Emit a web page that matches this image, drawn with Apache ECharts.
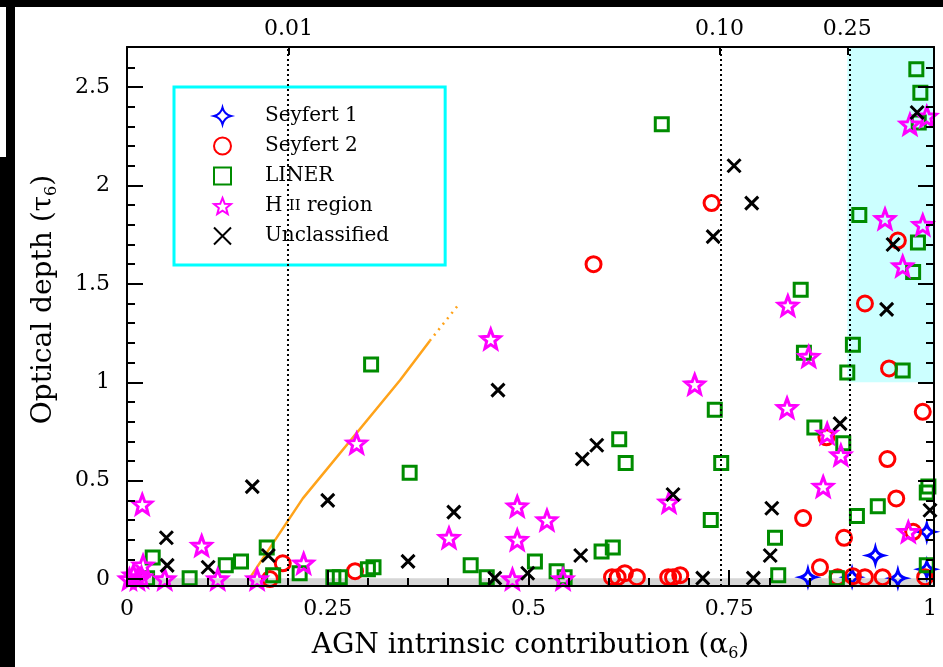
<!DOCTYPE html>
<html><head><meta charset="utf-8">
<script src="https://cdn.jsdelivr.net/npm/echarts@6/dist/echarts.min.js"></script>
<style>html,body{margin:0;padding:0;background:#fff}#c{width:943px;height:667px}</style>
</head><body><div id="c"></div>
<script>
// ---- data ([alpha6, tau6]) ----
const seyfert1 = [[0.848,0.01],[0.903,0.01],[0.932,0.12],[0.960,0.005],[0.996,0.24],[0.996,0.05]];
const seyfert2 = [[0.178,0.0],[0.194,0.08],[0.284,0.04],[0.581,1.60],[0.604,0.01],[0.611,0.01],[0.620,0.03],[0.635,0.01],[0.674,0.01],[0.680,0.01],[0.689,0.02],[0.728,1.91],[0.842,0.31],[0.863,0.06],[0.871,0.72],[0.885,0.01],[0.893,0.21],[0.904,0.015],[0.919,0.01],[0.919,1.40],[0.941,0.01],[0.947,0.61],[0.949,1.07],[0.958,0.41],[0.960,1.72],[0.979,0.24],[0.991,0.85],[0.994,0.01]];
const liner = [[0.025,0.005],[0.032,0.11],[0.078,0.005],[0.123,0.07],[0.142,0.09],[0.174,0.16],[0.182,0.02],[0.215,0.03],[0.257,0.01],[0.265,0.01],[0.300,0.05],[0.307,0.06],[0.304,1.09],[0.352,0.54],[0.428,0.07],[0.448,0.01],[0.508,0.09],[0.535,0.04],[0.545,0.01],[0.591,0.14],[0.605,0.16],[0.613,0.71],[0.621,0.59],[0.666,2.31],[0.727,0.30],[0.732,0.86],[0.740,0.59],[0.807,0.21],[0.811,0.02],[0.839,1.47],[0.843,1.15],[0.856,0.77],[0.884,0.005],[0.892,0.69],[0.897,1.05],[0.904,1.19],[0.909,0.32],[0.912,1.85],[0.935,0.37],[0.966,1.06],[0.979,1.56],[0.983,2.59],[0.985,1.71],[0.986,2.32],[0.988,2.47],[0.996,0.44],[0.998,0.47],[0.996,0.07]];
const hii = [[0.003,0.0],[0.008,0.02],[0.013,0.0],[0.018,0.01],[0.019,0.38],[0.020,0.07],[0.047,0.0],[0.093,0.17],[0.113,0.0],[0.162,0.0],[0.220,0.08],[0.286,0.69],[0.401,0.21],[0.453,1.22],[0.480,0.0],[0.486,0.37],[0.486,0.20],[0.523,0.30],[0.543,0.0],[0.675,0.39],[0.707,0.99],[0.822,0.87],[0.823,1.39],[0.849,1.13],[0.867,0.47],[0.872,0.74],[0.889,0.63],[0.944,1.83],[0.966,1.59],[0.973,0.24],[0.975,2.31],[0.991,1.80],[0.996,2.35]];
const unclassified = [[0.049,0.21],[0.050,0.07],[0.101,0.06],[0.156,0.47],[0.176,0.12],[0.250,0.40],[0.350,0.09],[0.407,0.34],[0.458,0.005],[0.462,0.96],[0.499,0.03],[0.565,0.12],[0.567,0.61],[0.585,0.68],[0.680,0.43],[0.717,0.005],[0.730,1.74],[0.756,2.10],[0.778,1.91],[0.780,0.005],[0.801,0.12],[0.803,0.36],[0.888,0.79],[0.946,1.37],[0.954,1.70],[0.984,2.37],[1.000,0.35]];
const trackSolid = [[0.152,0.0],[0.219,0.41],[0.340,1.01],[0.377,1.21]];
const trackDotted = [[0.377,1.21],[0.412,1.39]];
const refLineX = [0.201, 0.738, 0.897];
const refLineLabels = ['0.01','0.10','0.25'];
const shadeFrom = [0.897, 1.0];
const xTickValues = [0, 0.25, 0.5, 0.75, 1];
const xTickLabels = ['0','0.25','0.5','0.75','1'];
const xMinorTicks = [0.05,0.1,0.15,0.2,0.3,0.35,0.4,0.45,0.55,0.6,0.65,0.7,0.8,0.85,0.9,0.95];
const yTickValues = [0, 0.5, 1, 1.5, 2, 2.5];
const yTickLabels = ['0','0.5','1','1.5','2','2.5'];
const yMinorTicks = [0.1,0.2,0.3,0.4,0.6,0.7,0.8,0.9,1.1,1.2,1.3,1.4,1.6,1.7,1.8,1.9,2.1,2.2,2.3,2.4,2.6];

const X_MIN = 0, X_MAX = 1.005, Y_MIN = -0.035, Y_MAX = 2.703;
const FONT = 'DejaVu Serif';

function lbl(values, labels) {
  return v => { const i = values.findIndex(t => Math.abs(t - v) < 1e-6); return i >= 0 ? labels[i] : ''; };
}
function starPath(R, r) {
  let s = '';
  for (let i = 0; i < 10; i++) {
    const a = -Math.PI / 2 + i * Math.PI / 5, rad = i % 2 ? r : R;
    s += (i ? 'L' : 'M') + (rad * Math.cos(a)).toFixed(2) + ',' + (rad * Math.sin(a)).toFixed(2);
  }
  return 'path://' + s + 'Z';
}
const SYM_STAR = starPath(10, 4.3);
const SYM_X = 'path://M0,0L10,10M10,0L0,10';
const SYM_ASTROID = 'path://M0,-10Q2,-2 10,0Q2,2 0,10Q-2,2 -10,0Q-2,-2 0,-10Z';

const tickStyle = {color:'#000', width:2};
function axisBase(extra) {
  return Object.assign({type:'value', splitLine:{show:false}, z:10}, extra);
}
const titleRich = {
  t:{fontFamily:FONT, fontSize:28, color:'#000', lineHeight:32},
  s:{fontFamily:FONT, fontSize:16, color:'#000', lineHeight:16, verticalAlign:'bottom'}
};

const chart = echarts.init(document.getElementById('c'), null, {renderer:'canvas'});
function scatter(name, data, symbol, size, color) {
  return {
    name, type:'scatter', data, symbol, symbolSize:size, z:3,
    itemStyle:{color:'rgba(0,0,0,0)', borderColor:color, borderWidth:3, opacity:1},
    emphasis:{disabled:true},
    xAxisIndex:0, yAxisIndex:0
  };
}
chart.setOption({
  animation:false,
  backgroundColor:'#fff',
  grid:{left:127, right:9, top:47, bottom:81},
  graphic:[
    {type:'rect', shape:{x:0, y:0, width:943, height:7}, style:{fill:'#000'}, z:100},
    {type:'rect', shape:{x:6, y:0, width:9, height:667}, style:{fill:'#000'}, z:100},
    {type:'rect', shape:{x:0, y:157, width:15, height:510}, style:{fill:'#000'}, z:100}
  ],
  legend:{
    data:['Seyfert 1','Seyfert 2','LINER','H II region','Unclassified'],
    orient:'vertical', left:174, top:87,
    padding:[19, 56, 19, 39], itemGap:10, itemWidth:17, itemHeight:17,
    borderColor:'#00ffff', borderWidth:3, backgroundColor:'#fff',
    selectedMode:false,
    textStyle:{fontFamily:FONT, fontSize:20, color:'#000', lineHeight:20, padding:[0,0,0,29],
      rich:{n:{fontFamily:FONT, fontSize:20, color:'#000'}, sc:{fontFamily:FONT, fontSize:15, color:'#000'}}},
    formatter: n => n === 'H II region' ? '{n|H }{sc|II}{n| region}' : n
  },
  xAxis:[
    axisBase({position:'bottom', min:X_MIN, max:X_MAX,
      axisLine:{show:true, onZero:false, lineStyle:tickStyle},
      axisTick:{show:true, inside:true, length:16, customValues:xTickValues, lineStyle:tickStyle},
      axisLabel:{show:true, customValues:xTickValues, formatter:lbl(xTickValues, xTickLabels), margin:12, color:'#000', fontFamily:FONT, fontSize:22},
      name:'{t|AGN intrinsic contribution (α}{s|6}{t|)}', nameLocation:'middle', nameGap:44,
      nameTextStyle:{rich:titleRich}}),
    axisBase({position:'bottom', min:X_MIN, max:X_MAX,
      axisLine:{show:false, onZero:false},
      axisTick:{show:true, inside:true, length:8, customValues:xMinorTicks, lineStyle:tickStyle},
      axisLabel:{show:false}}),
    axisBase({position:'top', min:X_MIN, max:X_MAX,
      axisLine:{show:true, onZero:false, lineStyle:tickStyle},
      axisTick:{show:true, inside:true, length:8, customValues:refLineX, lineStyle:tickStyle},
      axisLabel:{show:true, customValues:refLineX, formatter:lbl(refLineX, refLineLabels), margin:7, color:'#000', fontFamily:FONT, fontSize:22}})
  ],
  yAxis:[
    axisBase({position:'left', min:Y_MIN, max:Y_MAX,
      axisLine:{show:true, onZero:false, lineStyle:tickStyle},
      axisTick:{show:true, inside:true, length:16, customValues:yTickValues, lineStyle:tickStyle},
      axisLabel:{show:true, customValues:yTickValues, formatter:lbl(yTickValues, yTickLabels), margin:17, color:'#000', fontFamily:FONT, fontSize:22},
      name:'{t|Optical depth (τ}{s|6}{t|)}', nameLocation:'middle', nameGap:67, nameRotate:90,
      nameTextStyle:{rich:titleRich, padding:[0,0,0,34]}}),
    axisBase({position:'left', min:Y_MIN, max:Y_MAX,
      axisLine:{show:false, onZero:false},
      axisTick:{show:true, inside:true, length:8, customValues:yMinorTicks, lineStyle:tickStyle},
      axisLabel:{show:false}}),
    axisBase({position:'right', min:Y_MIN, max:Y_MAX,
      axisLine:{show:true, onZero:false, lineStyle:tickStyle},
      axisTick:{show:true, inside:true, length:16, customValues:yTickValues, lineStyle:tickStyle},
      axisLabel:{show:false}}),
    axisBase({position:'right', min:Y_MIN, max:Y_MAX,
      axisLine:{show:false, onZero:false},
      axisTick:{show:true, inside:true, length:8, customValues:yMinorTicks, lineStyle:tickStyle},
      axisLabel:{show:false}})
  ],
  series:[
    {name:'regions', type:'scatter', data:[], z:1, silent:true, xAxisIndex:0, yAxisIndex:0,
      markArea:{silent:true, label:{show:false}, data:[
        [{xAxis:shadeFrom[0], yAxis:shadeFrom[1], itemStyle:{color:'#ccffff'}}, {xAxis:X_MAX, yAxis:Y_MAX}],
        [{xAxis:X_MIN, yAxis:Y_MIN, itemStyle:{color:'#d6d6d6'}}, {xAxis:X_MAX, yAxis:0.004}]
      ]},
      markLine:{silent:true, symbol:'none', label:{show:false},
        lineStyle:{color:'#000', width:2, type:[2,3]},
        data: refLineX.map(v => ({xAxis:v}))}
    },
    {name:'track', type:'line', data:trackSolid, showSymbol:false, symbol:'none', z:2,
      lineStyle:{color:'#ffa31a', width:2.5}, xAxisIndex:0, yAxisIndex:0},
    {name:'track2', type:'line', data:trackDotted, showSymbol:false, symbol:'none', z:2,
      lineStyle:{color:'#ffa31a', width:2.5, type:[2,5]}, xAxisIndex:0, yAxisIndex:0},
    scatter('Seyfert 1', seyfert1, SYM_ASTROID, 15, '#0000ff'),
    scatter('Seyfert 2', seyfert2, 'circle', 15, '#ff0000'),
    scatter('LINER', liner, 'rect', 13, '#008c00'),
    scatter('H II region', hii, SYM_STAR, 19, '#ff00ff'),
    scatter('Unclassified', unclassified, SYM_X, 13, '#000000')
  ]
});
</script></body></html>
